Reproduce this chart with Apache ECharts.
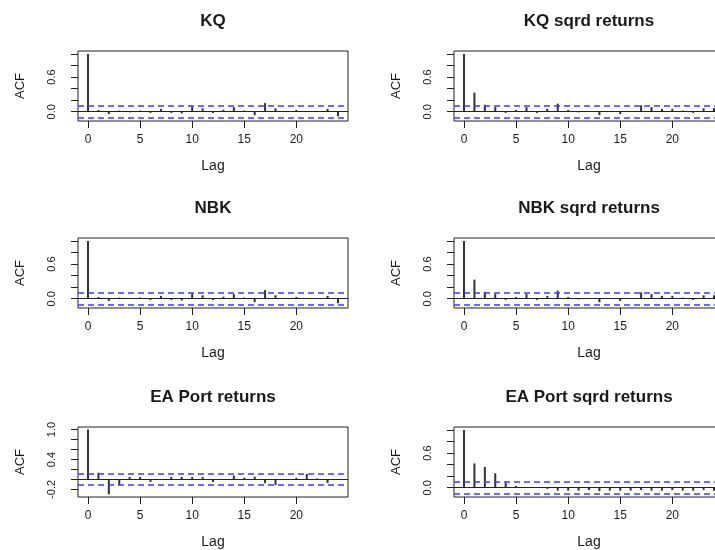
<!DOCTYPE html>
<html>
<head>
<meta charset="utf-8">
<script src="https://cdn.jsdelivr.net/npm/echarts@6.0.0/dist/echarts.min.js"></script>
<style>
  html, body { margin: 0; padding: 0; background: #fff; }
  #main { width: 715px; height: 550px; }
</style>
</head>
<body>
<div id="main"></div>
<script>
// lags shown on every panel
const lags = [0, 1, 2, 3, 4, 5, 6, 7, 8, 9, 10, 11, 12, 13, 14, 15, 16, 17, 18, 19, 20, 21, 22, 23, 24];
const lagTicks = [0, 5, 10, 15, 20];

// autocorrelations
const kqAcf = [1.0, 0.03, -0.04, 0.02, -0.01, 0.02, -0.02, 0.05, -0.02, -0.03, 0.09, 0.06, -0.02, 0.035, 0.08, 0.02, -0.06, 0.15, 0.06, 0.005, 0.03, -0.005, 0.005, 0.05, -0.08];
const kqSqAcf = [1.0, 0.33, 0.12, 0.08, -0.02, 0.03, 0.08, -0.02, 0.05, 0.14, 0.03, -0.01, 0.01, -0.06, 0.01, -0.04, 0.01, 0.11, 0.08, 0.05, 0.05, 0.02, -0.02, 0.06, 0.06];
const nbkAcf = [1.0, 0.03, -0.04, 0.02, 0.01, 0.02, -0.02, 0.05, -0.02, -0.03, 0.09, 0.06, -0.02, 0.035, 0.08, 0.02, -0.06, 0.15, 0.06, 0.005, 0.03, -0.005, 0.005, 0.05, -0.08];
const nbkSqAcf = [1.0, 0.33, 0.12, 0.08, -0.02, 0.03, 0.08, -0.02, 0.05, 0.14, 0.03, -0.01, 0.01, -0.06, 0.01, -0.04, 0.01, 0.11, 0.08, 0.05, 0.05, 0.02, -0.02, 0.06, 0.06];
const eaAcf = [1.0, 0.135, -0.30, -0.11, 0.05, 0.05, -0.05, 0.01, 0.05, 0.05, 0.05, 0.05, -0.05, 0.005, 0.08, 0.035, 0.055, -0.075, -0.115, 0.005, 0.03, 0.11, 0.02, -0.07, 0.005];
const eaSqAcf = [1.0, 0.42, 0.36, 0.25, 0.09, 0.03, 0.01, 0.005, -0.02, -0.05, -0.05, -0.05, -0.04, -0.06, -0.05, -0.05, -0.05, -0.04, -0.05, -0.05, -0.04, -0.05, -0.05, -0.04, -0.05];

// confidence bounds (+/-)
const kqCi = 0.105, kqSqCi = 0.105, nbkCi = 0.105, nbkSqCi = 0.105, eaCi = 0.112, eaSqCi = 0.107;

// y tick values and labelled ticks
const acfTicks = [0, 0.2, 0.4, 0.6, 0.8, 1.0];
const acfLabels = [0, 0.6];
const eaTicks = [-0.2, 0, 0.2, 0.4, 0.6, 0.8, 1.0];
const eaLabels = [-0.2, 0.4, 1.0];

const FONT = "Liberation Sans, Arial, sans-serif";
const INK = "#1a1a1a";

const panels = [
  { title: "KQ", vals: kqAcf, ci: kqCi, left: 78, top: 51, ymin: -0.16, ymax: 1.05, ticks: acfTicks, labels: acfLabels },
  { title: "KQ sqrd returns", vals: kqSqAcf, ci: kqSqCi, left: 454, top: 51, ymin: -0.16, ymax: 1.05, ticks: acfTicks, labels: acfLabels },
  { title: "NBK", vals: nbkAcf, ci: nbkCi, left: 78, top: 238, ymin: -0.16, ymax: 1.05, ticks: acfTicks, labels: acfLabels },
  { title: "NBK sqrd returns", vals: nbkSqAcf, ci: nbkSqCi, left: 454, top: 238, ymin: -0.16, ymax: 1.05, ticks: acfTicks, labels: acfLabels },
  { title: "EA Port returns", vals: eaAcf, ci: eaCi, left: 78, top: 427, ymin: -0.352, ymax: 1.052, ticks: eaTicks, labels: eaLabels },
  { title: "EA Port sqrd returns", vals: eaSqAcf, ci: eaSqCi, left: 454, top: 427, ymin: -0.16, ymax: 1.05, ticks: acfTicks, labels: acfLabels }
];

const W = 270, H = 70;
const grid = [], xAxis = [], yAxis = [], series = [], title = [];

panels.forEach((p, i) => {
  grid.push({
    left: p.left, top: p.top, width: W, height: H,
    show: true, borderColor: "#222", borderWidth: 1,
    containLabel: false, outerBoundsMode: "none"
  });
  title.push({
    text: p.title,
    left: p.left + W / 2, top: p.top - 40,
    textAlign: "center", padding: 0,
    textStyle: { fontFamily: FONT, fontSize: 17, fontWeight: "bold", color: INK, lineHeight: 20 }
  });
  xAxis.push({
    type: "value", gridIndex: i, min: -0.96, max: 24.96,
    position: "bottom",
    axisLine: { show: false, onZero: false },
    splitLine: { show: false },
    axisTick: { show: true, customValues: lagTicks, length: 7, lineStyle: { color: "#222" } },
    axisLabel: { customValues: lagTicks, margin: 13, fontFamily: FONT, fontSize: 12, color: INK },
    name: "Lag", nameLocation: "middle", nameGap: 38,
    nameTextStyle: { fontFamily: FONT, fontSize: 14, color: INK }
  });
  yAxis.push({
    type: "value", gridIndex: i, min: p.ymin, max: p.ymax,
    position: "left",
    axisLine: { show: false, onZero: false },
    splitLine: { show: false },
    axisTick: { show: true, customValues: p.ticks, length: 7, lineStyle: { color: "#222" } },
    axisLabel: {
      customValues: p.labels, rotate: 90, margin: 21,
      fontFamily: FONT, fontSize: 11, color: INK,
      formatter: (v) => Number(v).toFixed(1)
    },
    name: "ACF", nameLocation: "middle", nameGap: 51, nameRotate: 90,
    nameTextStyle: { fontFamily: FONT, fontSize: 13, color: INK }
  });
  series.push({
    type: "bar", xAxisIndex: i, yAxisIndex: i,
    data: lags.map((l, k) => [l, p.vals[k]]),
    barWidth: 2,
    itemStyle: { color: "#333" },
    silent: true,
    markLine: {
      silent: true, symbol: "none", label: { show: false },
      data: [
        { yAxis: 0, lineStyle: { color: "#222", type: "solid", width: 1.2 } },
        { yAxis: p.ci, lineStyle: { color: "#3a3aff", type: [6, 4], width: 1.5 } },
        { yAxis: -p.ci, lineStyle: { color: "#3a3aff", type: [6, 4], width: 1.5 } }
      ]
    }
  });
});

const myChart = echarts.init(document.getElementById("main"), null, { renderer: "canvas" });
myChart.setOption({
  animation: false,
  backgroundColor: "#fff",
  title, grid, xAxis, yAxis, series
});
</script>
</body>
</html>
